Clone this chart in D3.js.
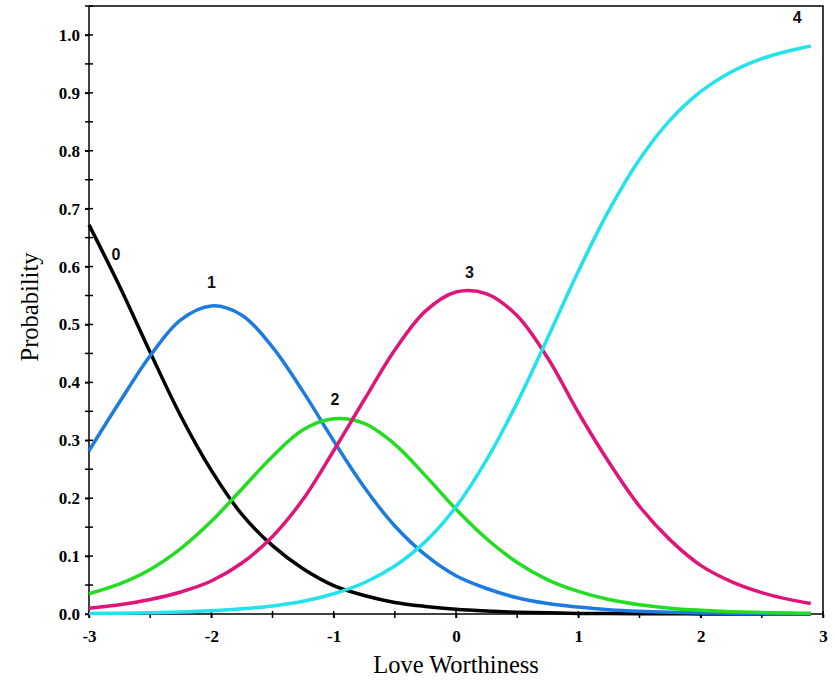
<!DOCTYPE html>
<html>
<head>
    <meta charset="utf-8">
    <title>Category Probability Curves</title>
    <style>
        body {
            margin: 0;
            background: #fff;
        }

        .axis text {
            font-family: "Liberation Serif", "Times New Roman", serif;
            font-weight: bold;
            font-size: 17px;
            fill: #000;
        }

        .axis path, .axis line {
            stroke: #000;
            stroke-width: 1.5;
        }

        .frame {
            fill: none;
            stroke: #000;
            stroke-width: 1.5;
        }

        .title {
            font-family: "Liberation Serif", "Times New Roman", serif;
            font-size: 24.5px;
            fill: #000;
        }

        .line {
            fill: none;
            stroke-width: 3.5;
            stroke-linejoin: round;
        }

        .cat-label {
            font-family: "Liberation Sans", Arial, sans-serif;
            font-weight: bold;
            font-size: 16px;
            fill: #111;
        }
    </style>
    <script src="https://d3js.org/d3.v7.min.js"></script>
</head>

<body>

<script type="text/javascript">
    // theta grid (Love Worthiness)
    var theta = [-3, -2.75, -2.5, -2.25, -2, -1.75, -1.5, -1.25, -1, -0.75, -0.5, -0.25,
        0, 0.25, 0.5, 0.75, 1, 1.25, 1.5, 1.75, 2, 2.25, 2.5, 2.75, 2.9];

    // probability of each response category
    var cat0 = [0.672, 0.566, 0.452, 0.342, 0.248, 0.172, 0.118, 0.078, 0.049, 0.032, 0.020, 0.013,
        0.008, 0.005, 0.003, 0.002, 0.001, 0.001, 0.0005, 0.0003, 0.0002, 0.0001, 0.0001, 0, 0];
    var cat1 = [0.282, 0.366, 0.446, 0.508, 0.532, 0.516, 0.461, 0.384, 0.299, 0.219, 0.152, 0.102,
        0.066, 0.044, 0.028, 0.018, 0.012, 0.0075, 0.0047, 0.003, 0.0019, 0.0012, 0.0007, 0.0005, 0.0004];
    var cat2 = [0.035, 0.052, 0.077, 0.113, 0.160, 0.216, 0.272, 0.318, 0.337, 0.329, 0.293, 0.239,
        0.181, 0.130, 0.089, 0.059, 0.039, 0.025, 0.016, 0.010, 0.0065, 0.0041, 0.0026, 0.0016, 0.0012];
    var cat3 = [0.010, 0.016, 0.025, 0.038, 0.057, 0.088, 0.134, 0.198, 0.282, 0.370, 0.456, 0.523,
        0.556, 0.553, 0.515, 0.442, 0.348, 0.262, 0.186, 0.128, 0.084, 0.056, 0.037, 0.024, 0.018];
    var cat4 = [0.001, 0.0014, 0.0022, 0.0035, 0.0056, 0.0089, 0.014, 0.022, 0.035, 0.054, 0.083, 0.125,
        0.185, 0.266, 0.365, 0.477, 0.592, 0.697, 0.785, 0.853, 0.902, 0.936, 0.959, 0.974, 0.981];

    var categories = ["0", "1", "2", "3", "4"];
    var colors = ["#000000", "#1c7be0", "#22dd22", "#e0157a", "#22e2ec"];

    // where each category number sits (theta, probability)
    var labelTheta = [-2.78, -2.0, -0.99, 0.11, 2.79];
    var labelProb = [0.62, 0.572, 0.37, 0.59, 1.031];

    var xTicks = [-3, -2, -1, 0, 1, 2, 3];
    var yTicks = [0, 0.1, 0.2, 0.3, 0.4, 0.5, 0.6, 0.7, 0.8, 0.9, 1.0];

    var width = 835, height = 690;

    var x = d3.scaleLinear().domain([-3, 3]).range([89, 823]);
    var y = d3.scaleLinear().domain([0, 1.05]).range([614, 6]);

    var svg = d3.select("body").append("svg")
            .attr("width", width)
            .attr("height", height);

    // top and right border
    svg.append("path")
            .attr("class", "frame")
            .attr("d", "M" + x(-3) + "," + y(1.05) + "H" + x(3) + "V" + y(0));

    // minor ticks
    var xMinor = d3.range(-3, 3.01, 0.5);
    var yMinor = d3.range(0, 1.051, 0.05);

    svg.append("g")
            .attr("class", "axis")
            .selectAll("line.xminor")
            .data(xMinor)
            .enter().append("line")
            .attr("x1", function (d) { return x(d); })
            .attr("x2", function (d) { return x(d); })
            .attr("y1", y(0) - 3)
            .attr("y2", y(0) + 4);

    svg.append("g")
            .attr("class", "axis")
            .selectAll("line.yminor")
            .data(yMinor)
            .enter().append("line")
            .attr("x1", x(-3) - 4)
            .attr("x2", x(-3) + 4)
            .attr("y1", function (d) { return y(d); })
            .attr("y2", function (d) { return y(d); });

    var xAxis = d3.axisBottom(x)
            .tickValues(xTicks)
            .tickFormat(function (d) { return String(d); })  // plain hyphen, like the original
            .tickSize(4)
            .tickSizeOuter(0)
            .tickPadding(12);

    var yAxis = d3.axisLeft(y)
            .tickValues(yTicks)
            .tickFormat(d3.format(".1f"))
            .tickSize(4)
            .tickSizeOuter(0)
            .tickPadding(5);

    var gx = svg.append("g")
            .attr("class", "axis")
            .attr("transform", "translate(0," + y(0) + ")")
            .call(xAxis);
    gx.select(".domain").attr("d", "M" + x(-3) + ",0H" + x(3));

    var gy = svg.append("g")
            .attr("class", "axis")
            .attr("transform", "translate(" + x(-3) + ",0)")
            .call(yAxis);
    gy.select(".domain").attr("d", "M0," + y(0) + "V" + y(1.05));

    // curves
    var series = [cat0, cat1, cat2, cat3, cat4];

    var line = d3.line()
            .x(function (d) { return x(d[0]); })
            .y(function (d) { return y(d[1]); })
            .curve(d3.curveCatmullRom.alpha(0.5));

    series.forEach(function (values, i) {
        svg.append("path")
                .attr("class", "line")
                .attr("stroke", colors[i])
                .attr("d", line(theta.map(function (t, j) { return [t, values[j]]; })));
    });

    // category labels
    svg.selectAll("text.cat-label")
            .data(categories)
            .enter().append("text")
            .attr("class", "cat-label")
            .attr("x", function (d, i) { return x(labelTheta[i]); })
            .attr("y", function (d, i) { return y(labelProb[i]); })
            .attr("text-anchor", "middle")
            .attr("dominant-baseline", "central")
            .text(function (d) { return d; });

    // axis titles
    svg.append("text")
            .attr("class", "title")
            .attr("x", 456)
            .attr("y", 673)
            .attr("text-anchor", "middle")
            .text("Love Worthiness");

    svg.append("text")
            .attr("class", "title")
            .attr("transform", "translate(38,307) rotate(-90)")
            .attr("text-anchor", "middle")
            .text("Probability");
</script>

</body>

</html>
